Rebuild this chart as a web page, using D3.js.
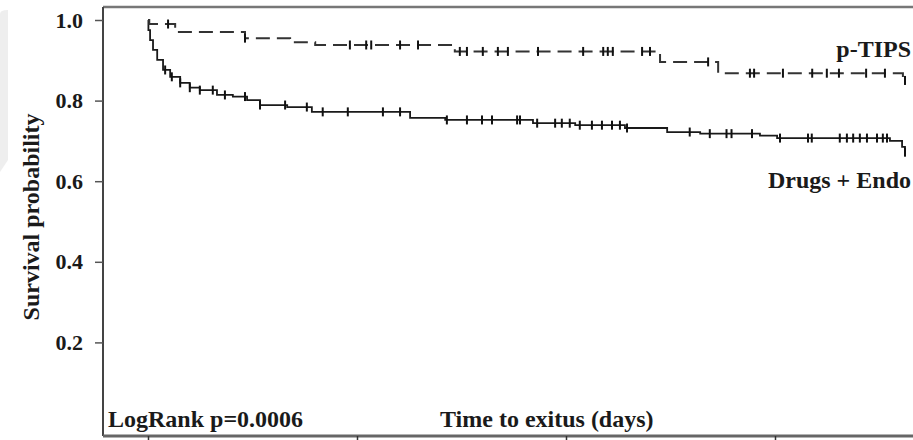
<!DOCTYPE html>
<html>
<head>
<meta charset="utf-8">
<script src="https://cdn.jsdelivr.net/npm/d3@7"></script>
<style>
  body { margin: 0; background: #fff; }
  svg { display: block; }
  text { font-family: "Liberation Serif", "Times New Roman", serif; font-weight: bold; fill: #1a1a1a; }
</style>
</head>
<body>
<div id="chart"></div>
<script>
// Kaplan-Meier data (days, survival)
const ptipsTimes = [0, 3, 65, 232, 340, 400, 734, 1225, 1364, 1806, 1811];
const ptipsSurv  = [1.0, 0.99, 0.97, 0.955, 0.945, 0.938, 0.922, 0.896, 0.868, 0.85, 0.85];
const ptipsCensor = [48, 232, 483, 522, 534, 603, 646, 746, 763, 801, 837, 861, 933, 1041, 1089, 1100,
  1112, 1182, 1201, 1340, 1440, 1450, 1519, 1589, 1624, 1653, 1718, 1763, 1811];

const drugsTimes = [0, 1, 5, 12, 22, 36, 53, 77, 100, 124, 165, 203, 237, 268, 333, 392, 627, 711,
  921, 1022, 1141, 1242, 1321, 1464, 1505, 1775, 1804, 1811];
const drugsSurv  = [1.0, 0.975, 0.95, 0.926, 0.901, 0.876, 0.859, 0.844, 0.832, 0.826, 0.814, 0.81,
  0.801, 0.789, 0.784, 0.772, 0.757, 0.752, 0.744, 0.739, 0.732, 0.722, 0.718, 0.713, 0.707, 0.70, 0.685, 0.672];
const drugsCensor = [41, 57, 77, 100, 124, 155, 184, 232, 268, 328, 380, 418, 478, 562, 603, 715, 763,
  799, 823, 883, 890, 931, 974, 990, 1009, 1033, 1062, 1086, 1110, 1129, 1146, 1296, 1344, 1384, 1396,
  1445, 1512, 1579, 1588, 1655, 1672, 1687, 1703, 1720, 1744, 1758, 1768, 1811];

const yTicks = [0.2, 0.4, 0.6, 0.8, 1.0];
const xTicks = [0, 500, 1000, 1500];   // labels fall below the visible picture

const width = 913, height = 440;
const frame = {left: 103, top: 7, bottom: 436};

const svg = d3.select('#chart').append('svg')
  .attr('width', width)
  .attr('height', height);

// faint grey page edge on the left
svg.append('path')
  .attr('d', 'M0,14 Q0,10 8,10 L8,160 L0,172 Z')
  .attr('fill', '#eeeeee');

const x = d3.scaleLinear().domain([0, 2000]).range([148, 984]);
const y = d3.scaleLinear().domain([0, 1]).range([423, 20]);

// frame
svg.append('line').attr('x1', frame.left).attr('x2', width).attr('y1', frame.top).attr('y2', frame.top)
  .attr('stroke', '#777').attr('stroke-width', 2.5);
svg.append('line').attr('x1', frame.left).attr('x2', frame.left).attr('y1', frame.top).attr('y2', frame.bottom)
  .attr('stroke', '#444').attr('stroke-width', 2);

// axes
const yAxis = svg.append('g')
  .attr('transform', `translate(${frame.left},0)`)
  .call(d3.axisLeft(y).tickValues(yTicks).tickSize(8).tickPadding(12).tickFormat(d3.format('.1f')));
yAxis.select('.domain').remove();
yAxis.selectAll('.tick line').attr('stroke', '#555').attr('stroke-width', 1.5);
yAxis.selectAll('.tick text').style('font-size', '22px').attr('fill', '#222');

const xAxis = svg.append('g')
  .attr('transform', `translate(0,${frame.bottom})`)
  .call(d3.axisBottom(x).tickValues(xTicks).tickSize(6).tickFormat(''));
xAxis.select('.domain').attr('d', `M${frame.left},0H${width}`).attr('stroke', '#666').attr('stroke-width', 3);
xAxis.selectAll('.tick line').attr('stroke', '#333').attr('stroke-width', 1.5);

// survival curves
function survAt(times, surv, t) {
  let i = d3.bisectRight(times, t) - 1;
  return surv[Math.max(0, i)];
}

const line = d3.line()
  .x(d => x(d[0]))
  .y(d => y(d[1]))
  .curve(d3.curveStepAfter);

const curves = [
  {times: drugsTimes, surv: drugsSurv, censor: drugsCensor, dash: null, color: '#1a1a1a', w: 1.8},
  {times: ptipsTimes, surv: ptipsSurv, censor: ptipsCensor, dash: '14,7', color: '#333', w: 2}
];

curves.forEach(c => {
  svg.append('path')
    .datum(d3.zip(c.times, c.surv))
    .attr('d', line)
    .attr('fill', 'none')
    .attr('stroke', c.color)
    .attr('stroke-width', c.w)
    .attr('stroke-dasharray', c.dash);

  svg.append('g')
    .selectAll('line')
    .data(c.censor)
    .join('line')
    .attr('x1', d => x(d))
    .attr('x2', d => x(d))
    .attr('y1', d => y(survAt(c.times, c.surv, d)) - 4.5)
    .attr('y2', d => y(survAt(c.times, c.surv, d)) + 4.5)
    .attr('stroke', '#111')
    .attr('stroke-width', 2);
});

// labels
svg.append('text').attr('x', 911).attr('y', 57).attr('text-anchor', 'end').style('font-size', '24px').text('p-TIPS');
svg.append('text').attr('x', 911).attr('y', 188).attr('text-anchor', 'end').style('font-size', '24px').text('Drugs + Endo');
svg.append('text').attr('x', 108).attr('y', 427).style('font-size', '24px').text('LogRank p=0.0006');
svg.append('text').attr('x', 440).attr('y', 427).style('font-size', '24px').text('Time to exitus (days)');
svg.append('text')
  .attr('transform', 'translate(39,217) rotate(-90)')
  .attr('text-anchor', 'middle')
  .style('font-size', '24px')
  .text('Survival probability');
</script>
</body>
</html>
